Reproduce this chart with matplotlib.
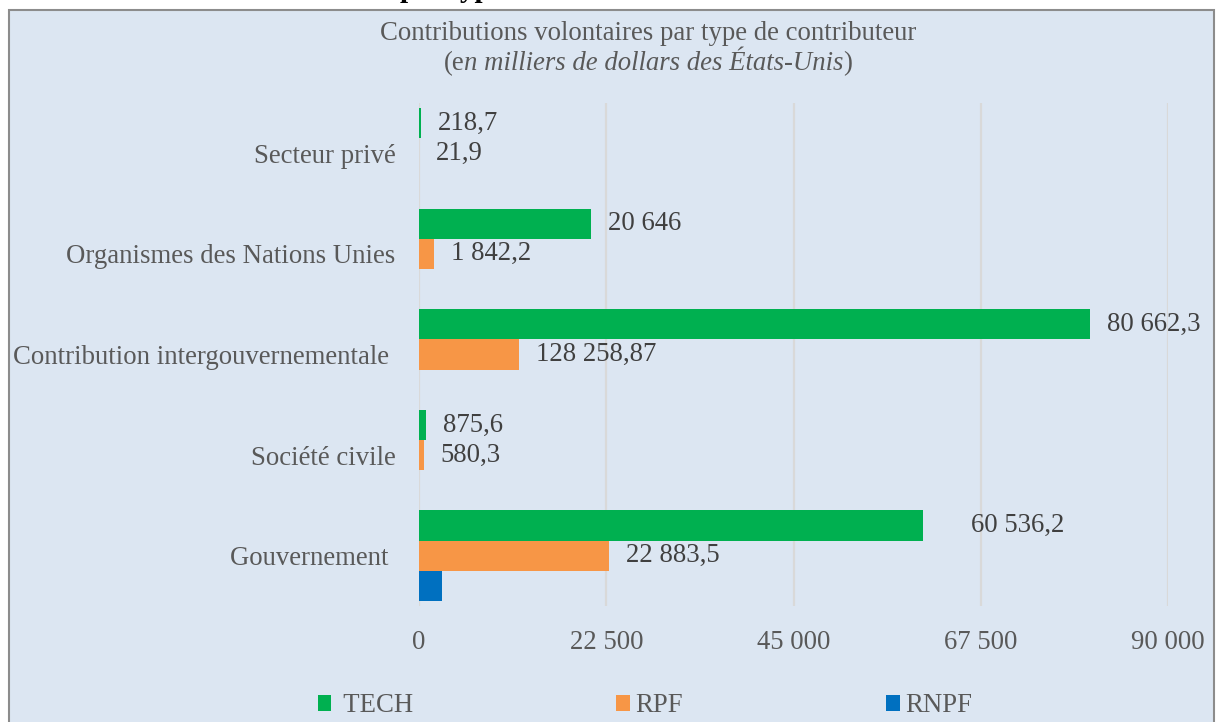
import matplotlib
matplotlib.use("Agg")
import matplotlib.pyplot as plt
from matplotlib.patches import Rectangle

# données (en milliers de dollars des États-Unis)
categories = ["Gouvernement ", "Société civile", "Contribution intergouvernementale ",
              "Organismes des Nations Unies", "Secteur privé"]
tech = [60536.2, 875.6, 80662.3, 20646, 218.7]
rpf = [22883.5, 580.3, 12050, 1842.2, 21.9]
rnpf = [2800, 0, 0, 0, 0]
tech_labels = ["60 536,2", "875,6", "80 662,3", "20 646", "218,7"]
rpf_labels = ["22 883,5", "580,3", "128 258,87", "1 842,2", "21,9"]
series_names = [" TECH", "RPF", "RNPF"]
xticks = [0, 22500, 45000, 67500, 90000]

plt.rcParams['font.family'] = ['Liberation Serif', 'DejaVu Serif']
FS = 19.3
GRAY = "#595959"
DARK = "#404040"
colors = ["#00B050", "#F79646", "#0070C0"]

W, H = 1219, 722
fig = plt.figure(figsize=(W / 100, H / 100), dpi=100, facecolor="white")

# cadre du graphique
fig.patches.append(Rectangle((9 / W, -0.05), (1214 - 9) / W, 1 - 10 / H + 0.05,
                             transform=fig.transFigure, facecolor="#DCE6F2",
                             edgecolor="#8C8C8C", lw=1.5, zorder=-5))

# titre coupé au-dessus du cadre
fig.text(400 / W, 1 + 3 / H, "par type", fontsize=21, fontweight="bold",
         color="black", ha="left", va="baseline")

ax = fig.add_axes([419 / W, 1 - 606 / H, (1168 - 419) / W, (606 - 103) / H])
ax.set_facecolor("none")

h = 0.3
ypos = list(range(len(categories)))
b_tech = ax.barh([y + h for y in ypos], tech, height=h, color=colors[0], label=series_names[0], zorder=3)
b_rpf = ax.barh(ypos, rpf, height=h, color=colors[1], label=series_names[1], zorder=3)
b_rnpf = ax.barh([y - h for y in ypos], rnpf, height=h, color=colors[2], label=series_names[2], zorder=3)

# étiquettes de données
for i in ypos:
    off = 34.5 if i == 0 else 12.2
    ax.annotate(tech_labels[i], (tech[i], i + h), xytext=(off, 0), textcoords="offset points",
                ha="left", va="center", fontsize=FS, color=DARK)
    ax.annotate(rpf_labels[i], (rpf[i], i), xytext=(12.2, 0), textcoords="offset points",
                ha="left", va="center", fontsize=FS, color=DARK)

ax.set_xlim(0, 90000)
ax.set_ylim(-0.5, len(categories) - 0.5)
ax.set_xticks(xticks)
ax.set_xticklabels([f"{v:,.0f}".replace(",", " ") for v in xticks])
ax.set_yticks(ypos)
ax.set_yticklabels(categories)
ax.tick_params(axis="x", length=0, pad=17, labelsize=FS, labelcolor=GRAY)
ax.tick_params(axis="y", length=0, pad=17, labelsize=FS, labelcolor=GRAY)
ax.xaxis.grid(True, color="#D9D9D9", lw=1.6, zorder=0)
ax.set_axisbelow(True)
for s in ax.spines.values():
    s.set_visible(False)

# titre (deux lignes, la seconde en partie en italique)
fig.text(648 / W, 1 - 33 / H, "Contributions volontaires par type de contributeur",
         ha="center", va="center", fontsize=FS, color=GRAY)
pieces = [("(e", "normal"), ("n milliers de dollars des États-Unis", "italic"), (")", "normal")]
fig.canvas.draw()
r = fig.canvas.get_renderer()
objs = [fig.text(0, 1 - 64 / H, t, fontsize=FS, style=st, color=GRAY, ha="left", va="center")
        for t, st in pieces]
widths = [o.get_window_extent(renderer=r).width for o in objs]
x = 648 - sum(widths) / 2
for o, w in zip(objs, widths):
    o.set_x(x / W)
    x += w

# légende
fig.legend(handles=[b_tech, b_rpf, b_rnpf], loc="center", bbox_to_anchor=(645 / W, 1 - 706 / H),
           ncol=3, frameon=False, fontsize=FS, handlelength=0.5, handleheight=0.5,
           handletextpad=0.2, columnspacing=7.6, labelcolor=GRAY)

fig.savefig("out.png", dpi=100, facecolor="white")
